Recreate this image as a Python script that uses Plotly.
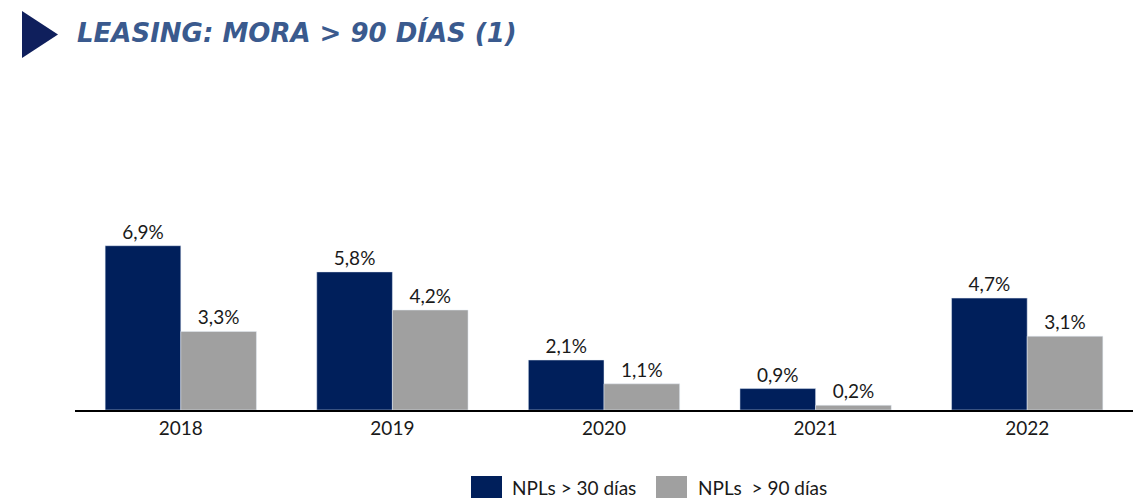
import plotly.graph_objects as go

years = ["2018", "2019", "2020", "2021", "2022"]
npl30 = [6.9, 5.8, 2.1, 0.9, 4.7]
npl90 = [3.3, 4.2, 1.1, 0.2, 3.1]
labels30 = ["6,9%", "5,8%", "2,1%", "0,9%", "4,7%"]
labels90 = ["3,3%", "4,2%", "1,1%", "0,2%", "3,1%"]
series_names = ["NPLs > 30 días", "NPLs  > 90 días"]

NAVY = "#001F5B"
GRAY = "#A0A0A0"
FONT = "Lato"
FS = 19

W, H = 1133, 498
L, R, T, B = 75, 0, 130, 88
pw, ph = W - L - R, H - T - B

def px(x):
    return (x - L) / pw

def py(y):
    return (H - B - y) / ph

fig = go.Figure()
fig.add_trace(go.Bar(x=years, y=npl30, name=series_names[0], marker_color=NAVY,
                     text=labels30, textposition="outside", cliponaxis=False,
                     textfont=dict(size=FS, color="#1a1a1a", family=FONT)))
fig.add_trace(go.Bar(x=years, y=npl90, name=series_names[1], marker_color=GRAY,
                     text=labels90, textposition="outside", cliponaxis=False,
                     textfont=dict(size=FS, color="#1a1a1a", family=FONT)))

shapes = [dict(type="path", xref="paper", yref="paper",
               path=f"M {px(22)} {py(11)} L {px(58)} {py(34.5)} L {px(22)} {py(58)} Z",
               fillcolor="#0F1F5C", line=dict(width=0))]
annotations = [dict(text="<b><i>LEASING: MORA &gt; 90 DÍAS (1)</i></b>", xref="paper", yref="paper",
                    x=px(75), y=py(33), xanchor="left", yanchor="middle", showarrow=False,
                    font=dict(family="DejaVu Sans", size=26, color="#3A5A8E"))]

# custom legend (large swatches like the reference)
legend_items = [(471, 502, 510, NAVY), (656, 687, 696, GRAY)]
for (x0, x1, tx, col), nm in zip(legend_items, series_names):
    shapes.append(dict(type="rect", xref="paper", yref="paper",
                       x0=px(x0), x1=px(x1), y0=py(498), y1=py(476),
                       fillcolor=col, line=dict(width=0)))
    annotations.append(dict(text=nm, xref="paper", yref="paper", x=px(tx), y=py(487),
                            xanchor="left", yanchor="middle", showarrow=False,
                            font=dict(family=FONT, size=FS, color="#1a1a1a")))

fig.update_layout(
    width=W, height=H,
    margin=dict(l=L, r=R, t=T, b=B, autoexpand=False),
    paper_bgcolor="white", plot_bgcolor="white",
    barmode="group", bargap=0.285, bargroupgap=0,
    font=dict(family=FONT, size=FS, color="#1a1a1a"),
    showlegend=False,
    xaxis=dict(showline=True, linecolor="#000000", linewidth=2, ticks="", showgrid=False,
               tickfont=dict(size=FS, family=FONT), fixedrange=True),
    yaxis=dict(visible=False, range=[0, 11.76], showgrid=False, zeroline=False),
    shapes=shapes,
    annotations=annotations,
)

fig.write_html("out.html", config={"displayModeBar": False},
               post_script="document.body.style.margin='0';")
